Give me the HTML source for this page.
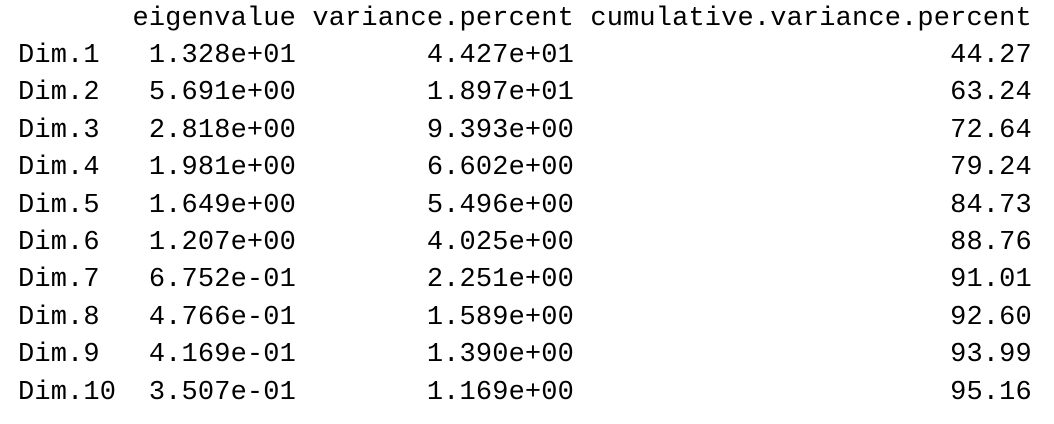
<!DOCTYPE html>
<html><head><meta charset="utf-8"><style>
html,body{margin:0;padding:0;background:#fff;width:1054px;height:424px;overflow:hidden}
pre{position:absolute;left:18px;top:0.6px;margin:0;font-family:"Liberation Mono",monospace;font-size:27px;letter-spacing:0.15px;line-height:37.4px;color:#000}
</style></head><body>
<pre>       eigenvalue variance.percent cumulative.variance.percent
Dim.1   1.328e+01        4.427e+01                       44.27
Dim.2   5.691e+00        1.897e+01                       63.24
Dim.3   2.818e+00        9.393e+00                       72.64
Dim.4   1.981e+00        6.602e+00                       79.24
Dim.5   1.649e+00        5.496e+00                       84.73
Dim.6   1.207e+00        4.025e+00                       88.76
Dim.7   6.752e-01        2.251e+00                       91.01
Dim.8   4.766e-01        1.589e+00                       92.60
Dim.9   4.169e-01        1.390e+00                       93.99
Dim.10  3.507e-01        1.169e+00                       95.16</pre>
</body></html>
